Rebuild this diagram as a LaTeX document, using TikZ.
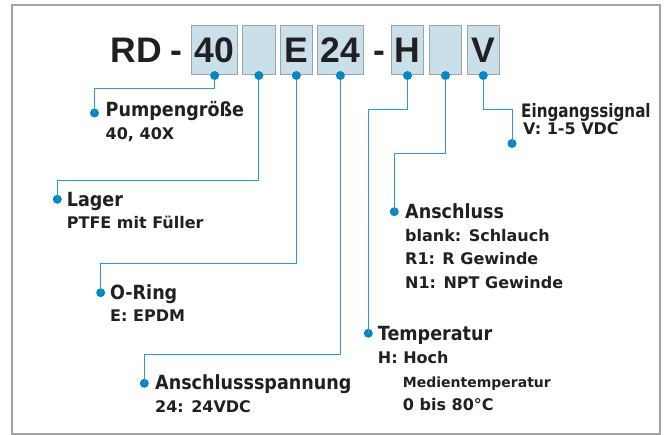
\documentclass[tikz,border=0pt]{standalone}
\usepackage{fontspec}
\setmainfont{DejaVu Sans}
\newfontfamily\bigfont{Liberation Sans}
\newfontfamily\headfont[FakeStretch=0.9]{DejaVu Sans}
\newfontfamily\narrowfont[FakeStretch=0.82]{DejaVu Sans}
\definecolor{txt}{HTML}{231F20}
\definecolor{boxfill}{HTML}{C9DFE9}
\definecolor{boxgray}{HTML}{9EA3A7}
\definecolor{lineblue}{HTML}{2E9BD0}
\definecolor{dotblue}{HTML}{0786C6}
\definecolor{framegray}{HTML}{A3A3A5}
\tikzset{
  box/.style={draw=boxgray, fill=boxfill, line width=1pt, inner sep=0pt, minimum height=49.3pt},
  big/.style={font=\bigfont\bfseries\fontsize{35.5}{40}\selectfont, text=txt, inner sep=0pt, anchor=base},
  head/.style={font=\headfont\bfseries\fontsize{19.5}{22}\selectfont, text=txt, inner sep=0pt, anchor=base west},
  narrowhead/.style={font=\narrowfont\bfseries\fontsize{18.5}{22}\selectfont, text=txt, inner sep=0pt, anchor=base west},
  sub/.style={font=\bfseries\fontsize{16}{19}\selectfont, text=txt, inner sep=0pt, anchor=base west},
  smallsub/.style={font=\bfseries\fontsize{14}{17}\selectfont, text=txt, inner sep=0pt, anchor=base west},
  dot/.style={circle, fill=dotblue, inner sep=0pt, minimum size=9pt},
  conn/.style={draw=lineblue, line width=1pt},
}
\begin{document}
\begin{tikzpicture}[x=1pt, y=-1pt]
\useasboundingbox (0,0) rectangle (667,435);
\draw[framegray, line width=2.5pt] (12,5) rectangle (660,434);

% code boxes
\node[box, minimum width=46pt]   (b40) at (214.7,50.35) {};
\node[box, minimum width=32.3pt] (bL)  at (258.85,50.35) {};
\node[box, minimum width=31.3pt] (bE)  at (296.35,50.35) {};
\node[box, minimum width=45.3pt] (b24) at (340.35,50.35) {};
\node[box, minimum width=31.6pt] (bH)  at (407.5,50.35) {};
\node[box, minimum width=32.4pt] (bA)  at (445.5,50.35) {};
\node[box, minimum width=32pt]   (bV)  at (483.3,50.35) {};

% code text
\node[big, anchor=base west] (tRD) at (110.2,62.7) {RD};
\node[big] (tdash1) at (176,62.7) {-};
\node[big] (t40) at (214.7,62.7) {40};
\node[big] (tE)  at (296.35,62.7) {E};
\node[big] (t24) at (340.35,62.7) {24};
\node[big] (tdash2) at (379.5,62.7) {-};
\node[big] (tH)  at (407.5,62.7) {H};
\node[big] (tV)  at (483.3,62.7) {V};

% label dots
\node[dot] (p1) at (94.5,113) {};
\node[dot] (p2) at (57.3,199.3) {};
\node[dot] (p3) at (100.7,292.7) {};
\node[dot] (p4) at (144.3,383.3) {};
\node[dot] (p5) at (368.3,333.3) {};
\node[dot] (p6) at (394.3,211.7) {};
\node[dot] (p7) at (512,143.5) {};

% bend points
\coordinate (k1) at (214.7,89);
\coordinate (k2) at (258.85,180.7);
\coordinate (k3) at (296.35,263.3);
\coordinate (k4) at (340.35,355);
\coordinate (k5) at (407.5,110);
\coordinate (k6) at (445.5,153.3);
\coordinate (k7) at (483.3,110);

% connectors
\draw[conn] (b40.south) -- (k1) -| (p1.center);
\draw[conn] (bL.south)  -- (k2) -| (p2.center);
\draw[conn] (bE.south)  -- (k3) -| (p3.center);
\draw[conn] (b24.south) -- (k4) -| (p4.center);
\draw[conn] (bH.south)  -- (k5) -| (p5.center);
\draw[conn] (bA.south)  -- (k6) -| (p6.center);
\draw[conn] (bV.south)  -- (k7) -| (p7.center);

% box dots
\node[dot] (d40) at (b40.south) {};
\node[dot] (dL)  at (bL.south) {};
\node[dot] (dE)  at (bE.south) {};
\node[dot] (d24) at (b24.south) {};
\node[dot] (dH)  at (bH.south) {};
\node[dot] (dA)  at (bA.south) {};
\node[dot] (dV)  at (bV.south) {};

% labels
\node[head] (h1) at (105.5,116.7) {Pumpengröße};
\node[sub]  (s1) at (105.5,140) {40, 40X};

\node[head] (h2) at (66.7,206.7) {Lager};
\node[sub]  (s2) at (66.7,228.3) {PTFE mit Füller};

\node[head] (h3) at (110,300) {O-Ring};
\node[sub]  (s3) at (110,321.7) {E: EPDM};

\node[head] (h4) at (155,390) {Anschlussspannung};
\node[sub]  (s4) at (155,412.7) {24: 24VDC};

\node[head] (h5) at (377.7,340.7) {Temperatur};
\node[sub]  (s5a) at (377.7,363.3) {H: Hoch};
\node[smallsub] (s5b) at (402.7,387.7) {Medientemperatur};
\node[sub]  (s5c) at (402.7,410.7) {0 bis 80°C};

\node[head] (h6) at (405,218.3) {Anschluss};
\node[sub]  (s6a) at (405,241.7) {blank: Schlauch};
\node[sub]  (s6b) at (405,265) {R1: R Gewinde};
\node[sub]  (s6c) at (405,288.3) {N1: NPT Gewinde};

\node[narrowhead] (h7) at (521,117.3) {Eingangssignal};
\node[sub]  (s7) at (523,135) {V: 1-5 VDC};
\end{tikzpicture}
\end{document}
